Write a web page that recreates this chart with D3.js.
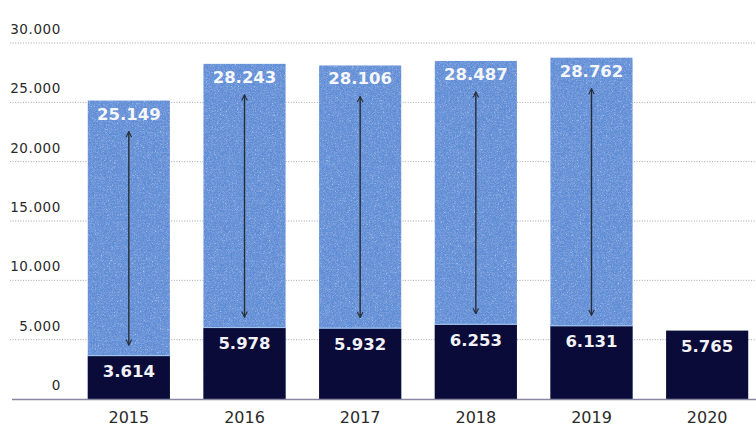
<!DOCTYPE html>
<html>
<head>
<meta charset="utf-8">
<script src="https://cdn.jsdelivr.net/npm/d3@7"></script>
<style>
  body { margin: 0; background: #fff; }
  text { font-family: "DejaVu Sans", sans-serif; }
</style>
</head>
<body>
<div class="chart"></div>
<script>
const years = ["2015", "2016", "2017", "2018", "2019", "2020"];
const totals = [25149, 28243, 28106, 28487, 28762, null];
const lower = [3614, 5978, 5932, 6253, 6131, 5765];
const yTicks = [0, 5000, 10000, 15000, 20000, 25000, 30000];

const width = 756, height = 428;

const svg = d3.select('.chart').append('svg')
    .attr("width", width)
    .attr("height", height);

const locale = d3.formatLocale({decimal: ",", thousands: ".", grouping: [3], currency: ["", ""]});
const fmt = locale.format(",");

const xScale = d3.scaleBand()
    .domain(years)
    .range([71, 765])
    .paddingInner(0.29)
    .paddingOuter(0.145);

const yScale = d3.scaleLinear()
    .domain([0, 30000])
    .range([399, 43]);

// grainy texture for the light bars
const defs = svg.append("defs");
const filt = defs.append("filter").attr("id", "grain")
    .attr("x", 0).attr("y", 0).attr("width", 1).attr("height", 1);
filt.append("feTurbulence")
    .attr("type", "fractalNoise").attr("baseFrequency", 0.65)
    .attr("numOctaves", 2).attr("seed", 7).attr("result", "noise");
filt.append("feColorMatrix").attr("in", "noise").attr("type", "matrix")
    .attr("values", "0 0 0 0 0.24  0 0 0 0 0.36  0 0 0 0 0.72  0 0 0 2.6 -1.05")
    .attr("result", "dark");
filt.append("feColorMatrix").attr("in", "noise").attr("type", "matrix")
    .attr("values", "0 0 0 0 0.50  0 0 0 0 0.72  0 0 0 0 0.92  0 0 0 -2.6 1.0")
    .attr("result", "light");
filt.append("feComposite").attr("in", "dark").attr("in2", "SourceGraphic")
    .attr("operator", "atop").attr("result", "a");
filt.append("feComposite").attr("in", "light").attr("in2", "a")
    .attr("operator", "atop");

defs.append("marker").attr("id", "head")
    .attr("viewBox", "0 0 10 10").attr("refX", 9).attr("refY", 5)
    .attr("markerWidth", 7).attr("markerHeight", 7)
    .attr("markerUnits", "userSpaceOnUse")
    .attr("orient", "auto-start-reverse")
  .append("path")
    .attr("d", "M1,1 L9,5 L1,9")
    .attr("fill", "none").attr("stroke", "#2a3038").attr("stroke-width", 1.6);

// gridlines + y labels
svg.append("g").selectAll("line")
    .data(yTicks.filter(d => d > 0))
    .enter().append("line")
    .attr("x1", 10).attr("x2", width)
    .attr("y1", d => yScale(d)).attr("y2", d => yScale(d))
    .attr("stroke", "#a4a4ac").attr("stroke-width", 1)
    .attr("stroke-dasharray", "1,1.6");

svg.append("g").selectAll("text")
    .data(yTicks)
    .enter().append("text")
    .attr("x", 61)
    .attr("y", d => yScale(d) - 9)
    .attr("text-anchor", "end")
    .attr("font-size", 13.5)
    .attr("letter-spacing", 0.6)
    .attr("fill", "#2a2a2a")
    .text(d => fmt(d));

const idx = d3.range(years.length);

// light (total) bars
const withTotal = idx.filter(i => totals[i] != null);
svg.append("g").selectAll("rect")
    .data(withTotal)
    .enter().append("rect")
    .attr("x", i => xScale(years[i]))
    .attr("y", i => yScale(totals[i]))
    .attr("width", xScale.bandwidth())
    .attr("height", i => yScale(0) - yScale(totals[i]))
    .attr("fill", "#5a8cd6")
    .attr("filter", "url(#grain)");

// dark bars
svg.append("g").selectAll("rect")
    .data(idx)
    .enter().append("rect")
    .attr("x", i => xScale(years[i]))
    .attr("y", i => yScale(lower[i]))
    .attr("width", xScale.bandwidth())
    .attr("height", i => yScale(0) - yScale(lower[i]))
    .attr("fill", "#0a0b38");

// thin light seam between light and dark part
svg.append("g").selectAll("line")
    .data(withTotal)
    .enter().append("line")
    .attr("x1", i => xScale(years[i]))
    .attr("x2", i => xScale(years[i]) + xScale.bandwidth())
    .attr("y1", i => yScale(lower[i]) - 0.5)
    .attr("y2", i => yScale(lower[i]) - 0.5)
    .attr("stroke", "#a8c8ee").attr("stroke-width", 1);

// arrows
svg.append("g").selectAll("line")
    .data(withTotal)
    .enter().append("line")
    .attr("x1", i => xScale(years[i]) + xScale.bandwidth() / 2)
    .attr("x2", i => xScale(years[i]) + xScale.bandwidth() / 2)
    .attr("y1", i => yScale(totals[i]) + 31)
    .attr("y2", i => yScale(lower[i]) - 11)
    .attr("stroke", "#262c34").attr("stroke-width", 1.4)
    .attr("marker-start", "url(#head)")
    .attr("marker-end", "url(#head)");

// value labels
svg.append("g").selectAll("text")
    .data(withTotal)
    .enter().append("text")
    .attr("x", i => xScale(years[i]) + xScale.bandwidth() / 2)
    .attr("y", i => yScale(totals[i]) + 19)
    .attr("text-anchor", "middle")
    .attr("font-size", 16.5).attr("font-weight", "bold")
    .attr("fill", "#f4f6fa")
    .text(i => fmt(totals[i]));

svg.append("g").selectAll("text")
    .data(idx)
    .enter().append("text")
    .attr("x", i => xScale(years[i]) + xScale.bandwidth() / 2)
    .attr("y", i => yScale(lower[i]) + 21)
    .attr("text-anchor", "middle")
    .attr("font-size", 16.5).attr("font-weight", "bold")
    .attr("fill", "#f2f2f6")
    .text(i => fmt(lower[i]));

// baseline
svg.append("line")
    .attr("x1", 12).attr("x2", width)
    .attr("y1", yScale(0) + 0.5).attr("y2", yScale(0) + 0.5)
    .attr("stroke", "#8886a0").attr("stroke-width", 1.5);

// x labels
svg.append("g").selectAll("text")
    .data(years)
    .enter().append("text")
    .attr("x", d => xScale(d) + xScale.bandwidth() / 2)
    .attr("y", 423)
    .attr("text-anchor", "middle")
    .attr("font-size", 16)
    .attr("fill", "#2a2a2a")
    .text(d => d);
</script>
</body>
</html>
